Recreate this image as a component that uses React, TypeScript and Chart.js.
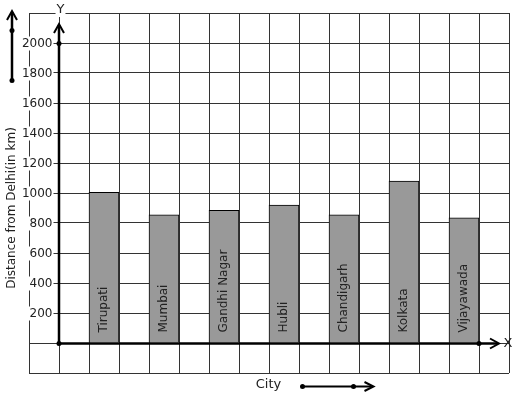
import React, { useEffect, useRef } from 'react';
import { Chart, registerables } from 'chart.js';

Chart.register(...registerables);

// ---- data ----
const cities = ['Tirupati', 'Mumbai', 'Gandhi Nagar', 'Hubli', 'Chandigarh', 'Kolkata', 'Vijayawada'];
const distances = [1005, 855, 885, 920, 855, 1080, 835];
const yTickValues = [200, 400, 600, 800, 1000, 1200, 1400, 1600, 1800, 2000];
const yMin = -200;
const yMax = 2200;
const yStep = 200;
const yTitle = 'Distance from Delhi(in km)';
const xTitle = 'City';
const yAxisName = 'Y';
const xAxisName = 'X';

// grid slots: an empty column between cities, one before and one after
const slotLabels = ['', ...cities.flatMap((c) => ['', c]), ''];
const slotValues = [null, ...distances.flatMap((d) => [null, d]), null];

const FONT = '"DejaVu Sans", sans-serif';
const TEXT = '#222';

function arrowHead(ctx: CanvasRenderingContext2D, tx: number, ty: number, dir: 'up' | 'right', len = 9, half = 5) {
  ctx.beginPath();
  if (dir === 'up') {
    ctx.moveTo(tx - half, ty + len);
    ctx.lineTo(tx, ty);
    ctx.lineTo(tx + half, ty + len);
  } else {
    ctx.moveTo(tx - len, ty - half);
    ctx.lineTo(tx, ty);
    ctx.lineTo(tx - len, ty + half);
  }
  ctx.stroke();
}

function dot(ctx: CanvasRenderingContext2D, x: number, y: number, r = 2.5) {
  ctx.beginPath();
  ctx.arc(x, y, r, 0, Math.PI * 2);
  ctx.fill();
}

function textWithBackdrop(ctx: CanvasRenderingContext2D, s: string, x: number, y: number, align: CanvasTextAlign) {
  const w = ctx.measureText(s).width;
  let left = x;
  if (align === 'right') left = x - w;
  else if (align === 'center') left = x - w / 2;
  ctx.fillStyle = '#fff';
  ctx.fillRect(left - 1, y - 7, w + 2, 14);
  ctx.fillStyle = TEXT;
  ctx.textAlign = align;
  ctx.fillText(s, x, y);
}

const decorPlugin = {
  id: 'decor',
  afterDatasetsDraw(chart: any) {
    const ctx: CanvasRenderingContext2D = chart.ctx;
    const xs = chart.scales.x;
    const ys = chart.scales.y;
    const ox = xs.getPixelForValue(0.5);
    const oy = ys.getPixelForValue(0) + 0.5;
    ctx.save();

    // bar labels
    const meta = chart.getDatasetMeta(0);
    ctx.font = `12px ${FONT}`;
    ctx.fillStyle = TEXT;
    ctx.textBaseline = 'middle';
    meta.data.forEach((el: any, i: number) => {
      if (slotValues[i] == null) return;
      ctx.save();
      ctx.translate(el.x - 0.5, el.base - 10);
      ctx.rotate(-Math.PI / 2);
      ctx.textAlign = 'left';
      ctx.fillText(slotLabels[i], 0, 0);
      ctx.restore();
    });

    // y tick labels
    ctx.font = `12px ${FONT}`;
    ctx.textBaseline = 'middle';
    yTickValues.forEach((v) => {
      const py = ys.getPixelForValue(v) + 0.5;
      textWithBackdrop(ctx, String(v), ox - 6.5, py, 'right');
    });

    // axes
    ctx.strokeStyle = '#000';
    ctx.fillStyle = '#000';
    ctx.lineWidth = 2.5;
    ctx.lineCap = 'butt';
    const yTipY = ys.getPixelForValue(yTickValues[yTickValues.length - 1]) - 19;
    ctx.beginPath();
    ctx.moveTo(ox, oy);
    ctx.lineTo(ox, yTipY + 1);
    ctx.stroke();
    ctx.lineWidth = 2;
    arrowHead(ctx, ox, yTipY, 'up');
    dot(ctx, ox, ys.getPixelForValue(yTickValues[yTickValues.length - 1]) + 0.5);
    dot(ctx, ox, oy);

    const lastSlot = slotLabels.length - 1;
    const xDotX = xs.getPixelForValue(lastSlot - 0.5);
    const xTipX = xDotX + 20;
    ctx.lineWidth = 2.5;
    ctx.beginPath();
    ctx.moveTo(ox, oy);
    ctx.lineTo(xTipX - 1, oy);
    ctx.stroke();
    ctx.lineWidth = 2;
    arrowHead(ctx, xTipX, oy, 'right');
    dot(ctx, xDotX, oy);

    // axis names
    ctx.font = `13px ${FONT}`;
    ctx.textBaseline = 'middle';
    textWithBackdrop(ctx, yAxisName, ox + 1.5, chart.chartArea.top - 3, 'center');
    ctx.fillStyle = TEXT;
    ctx.textAlign = 'center';
    ctx.fillText(xAxisName, xTipX + 9, oy);

    // y title
    ctx.font = `12px ${FONT}`;
    ctx.save();
    ctx.translate(12, ys.getPixelForValue(900));
    ctx.rotate(-Math.PI / 2);
    ctx.textAlign = 'center';
    ctx.textBaseline = 'middle';
    ctx.fillText(yTitle, 0, 0);
    ctx.restore();

    // left decorative arrow
    ctx.strokeStyle = '#000';
    ctx.fillStyle = '#000';
    ctx.lineWidth = 2.5;
    ctx.beginPath();
    ctx.moveTo(12, 80);
    ctx.lineTo(12, 12);
    ctx.stroke();
    ctx.lineWidth = 2;
    arrowHead(ctx, 12, 11, 'up');
    dot(ctx, 12, 30.5);
    dot(ctx, 12, 80.5);

    // x title
    ctx.font = `13px ${FONT}`;
    ctx.fillStyle = TEXT;
    ctx.textAlign = 'center';
    ctx.textBaseline = 'middle';
    ctx.fillText(xTitle, 268.5, 385);

    // bottom decorative arrow
    ctx.strokeStyle = '#000';
    ctx.fillStyle = '#000';
    ctx.lineWidth = 2;
    ctx.beginPath();
    ctx.moveTo(302, 386.5);
    ctx.lineTo(372, 386.5);
    ctx.stroke();
    arrowHead(ctx, 373.5, 386.5, 'right', 9, 4.5);
    dot(ctx, 302.5, 386.5);
    dot(ctx, 353.5, 386.5);

    ctx.restore();
  },
};

export default function App() {
  const ref = useRef<HTMLCanvasElement>(null);
  useEffect(() => {
    if (!ref.current) return;
    const chart = new Chart(ref.current, {
      type: 'bar',
      data: {
        labels: slotLabels,
        datasets: [
          {
            data: slotValues as any,
            backgroundColor: '#999999',
            borderColor: '#000',
            borderWidth: 1,
            categoryPercentage: 1,
            barPercentage: 1,
          },
        ],
      },
      options: {
        animation: false,
        responsive: false,
        layout: { padding: { left: 29, top: 13, right: 8, bottom: 26 } },
        plugins: { legend: { display: false }, tooltip: { enabled: false } },
        scales: {
          x: {
            type: 'category',
            offset: true,
            grid: { offset: true, color: '#333', lineWidth: 1, drawTicks: false },
            border: { display: false },
            ticks: { display: false },
          },
          y: {
            type: 'linear',
            min: yMin,
            max: yMax,
            ticks: { display: false, stepSize: yStep },
            grid: { color: '#333', lineWidth: 1, drawTicks: false },
            border: { display: false },
          },
        },
      },
      plugins: [decorPlugin],
    });
    return () => chart.destroy();
  }, []);
  return (
    <div style={{ position: 'fixed', left: 0, top: 0, width: 517, height: 399, background: '#fff' }}>
      <canvas ref={ref} width={517} height={399} style={{ display: 'block' }} />
    </div>
  );
}
